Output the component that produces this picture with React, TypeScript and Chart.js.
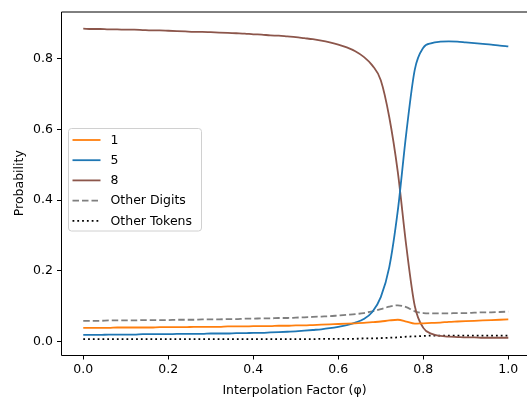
import React, { useEffect, useRef } from "react";
import { Chart, registerables } from "chart.js";

Chart.register(...registerables);

const phi: number[] = [
  0.0, 0.02, 0.04, 0.06, 0.08, 0.1, 0.12, 0.14, 0.16, 0.18,
  0.2, 0.22, 0.24, 0.26, 0.28, 0.3, 0.32, 0.34, 0.36, 0.38,
  0.4, 0.42, 0.44, 0.46, 0.48, 0.5, 0.52, 0.54, 0.56, 0.58,
  0.6, 0.62, 0.64, 0.66, 0.68, 0.7, 0.72, 0.74, 0.76, 0.78,
  0.8, 0.82, 0.84, 0.86, 0.88, 0.9, 0.92, 0.94, 0.96, 0.98, 1.0,
];

const digit1: number[] = [
  0.038, 0.038, 0.038, 0.038, 0.039, 0.039, 0.039, 0.039, 0.039, 0.04,
  0.04, 0.04, 0.04, 0.041, 0.041, 0.041, 0.041, 0.042, 0.042, 0.042,
  0.043, 0.043, 0.043, 0.044, 0.044, 0.045, 0.045, 0.046, 0.047, 0.048,
  0.049, 0.05, 0.051, 0.052, 0.054, 0.056, 0.059, 0.061, 0.056, 0.05,
  0.051, 0.052, 0.053, 0.055, 0.056, 0.057, 0.058, 0.059, 0.06, 0.061, 0.062,
];

const digit5: number[] = [
  0.018, 0.018, 0.018, 0.019, 0.019, 0.019, 0.019, 0.02, 0.02, 0.02,
  0.02, 0.021, 0.021, 0.021, 0.021, 0.022, 0.022, 0.022, 0.023, 0.023,
  0.024, 0.024, 0.025, 0.026, 0.027, 0.028, 0.03, 0.032, 0.034, 0.037,
  0.041, 0.046, 0.053, 0.063, 0.083, 0.125, 0.21, 0.37, 0.59, 0.77,
  0.832, 0.845, 0.849, 0.85, 0.849, 0.847, 0.845, 0.843, 0.841, 0.838, 0.836,
];

const digit8: number[] = [
  0.886, 0.885, 0.885, 0.884, 0.884, 0.883, 0.883, 0.882, 0.881, 0.881,
  0.88, 0.879, 0.878, 0.877, 0.877, 0.876, 0.875, 0.874, 0.873, 0.872,
  0.87, 0.869, 0.867, 0.866, 0.864, 0.862, 0.859, 0.856, 0.852, 0.847,
  0.841, 0.833, 0.822, 0.806, 0.782, 0.74, 0.635, 0.48, 0.27, 0.1,
  0.038, 0.021, 0.015, 0.013, 0.012, 0.011, 0.011, 0.01, 0.01, 0.01, 0.01,
];

const otherDigits: number[] = [
  0.058, 0.058, 0.058, 0.059, 0.059, 0.059, 0.059, 0.06, 0.06, 0.06,
  0.06, 0.061, 0.061, 0.061, 0.062, 0.062, 0.062, 0.063, 0.063, 0.064,
  0.064, 0.065, 0.065, 0.066, 0.066, 0.067, 0.068, 0.069, 0.07, 0.071,
  0.073, 0.075, 0.077, 0.08, 0.085, 0.091, 0.098, 0.102, 0.097, 0.085,
  0.08, 0.079, 0.079, 0.079, 0.08, 0.08, 0.081, 0.082, 0.082, 0.083, 0.084,
];

const otherTokens: number[] = [
  0.006, 0.006, 0.006, 0.006, 0.006, 0.006, 0.006, 0.006, 0.006, 0.006,
  0.006, 0.006, 0.006, 0.006, 0.006, 0.006, 0.006, 0.006, 0.006, 0.006,
  0.006, 0.006, 0.006, 0.006, 0.006, 0.006, 0.006, 0.006, 0.007, 0.007,
  0.007, 0.007, 0.007, 0.008, 0.008, 0.009, 0.01, 0.011, 0.013, 0.014,
  0.015, 0.016, 0.016, 0.016, 0.016, 0.016, 0.016, 0.016, 0.016, 0.016, 0.016,
];

const xTicks: number[] = [0, 0.2, 0.4, 0.6, 0.8, 1.0];
const yTicks: number[] = [0, 0.2, 0.4, 0.6, 0.8];

const FONT = "'DejaVu Sans', sans-serif";

type SeriesDef = { label: string; values: number[]; color: string; dash: number[] };

const seriesDefs: SeriesDef[] = [
  { label: "1", values: digit1, color: "#ff7f0e", dash: [] },
  { label: "5", values: digit5, color: "#1f77b4", dash: [] },
  { label: "8", values: digit8, color: "#8c564b", dash: [] },
  { label: "Other Digits", values: otherDigits, color: "#7f7f7f", dash: [6.5, 3] },
  { label: "Other Tokens", values: otherTokens, color: "#000000", dash: [1.8, 3] },
];

const framePlugin = {
  id: "frame",
  afterDraw(chart: any) {
    const { ctx, chartArea } = chart;
    const { left, top, right, bottom } = chartArea;
    ctx.save();
    ctx.strokeStyle = "#000";
    ctx.lineWidth = 1;
    ctx.setLineDash([]);
    ctx.beginPath();
    ctx.moveTo(left - 0.5, bottom + 0.5);
    ctx.lineTo(left - 0.5, top + 0.5);
    ctx.lineTo(right + 5, top + 0.5);
    ctx.moveTo(left - 0.5, bottom + 0.5);
    ctx.lineTo(right + 5, bottom + 0.5);
    ctx.stroke();

    // legend
    const bx = 68.5, by = 128.5, bw = 133, bh = 102.5, r = 3;
    ctx.beginPath();
    ctx.moveTo(bx + r, by);
    ctx.lineTo(bx + bw - r, by);
    ctx.arcTo(bx + bw, by, bx + bw, by + r, r);
    ctx.lineTo(bx + bw, by + bh - r);
    ctx.arcTo(bx + bw, by + bh, bx + bw - r, by + bh, r);
    ctx.lineTo(bx + r, by + bh);
    ctx.arcTo(bx, by + bh, bx, by + bh - r, r);
    ctx.lineTo(bx, by + r);
    ctx.arcTo(bx, by, bx + r, by, r);
    ctx.closePath();
    ctx.fillStyle = "rgba(255,255,255,0.8)";
    ctx.fill();
    ctx.strokeStyle = "#d0d0d0";
    ctx.stroke();

    ctx.font = `12.5px ${FONT}`;
    ctx.textBaseline = "middle";
    ctx.textAlign = "left";
    seriesDefs.forEach((s, i) => {
      const y = 140 + i * 20.2;
      ctx.beginPath();
      ctx.strokeStyle = s.color;
      ctx.lineWidth = 1.8;
      ctx.setLineDash(s.dash);
      ctx.moveTo(72.5, y);
      ctx.lineTo(100.5, y);
      ctx.stroke();
      ctx.setLineDash([]);
      ctx.fillStyle = "#000";
      ctx.fillText(s.label, 110.5, y + 0.5);
    });
    ctx.restore();
  },
};

export default function App() {
  const canvasRef = useRef<HTMLCanvasElement | null>(null);

  useEffect(() => {
    if (!canvasRef.current) return;
    Chart.defaults.font.family = FONT;
    Chart.defaults.font.size = 12.5;
    Chart.defaults.color = "#000";

    const chart = new Chart(canvasRef.current, {
      type: "line",
      data: {
        datasets: seriesDefs.map((s) => ({
          label: s.label,
          data: phi.map((x, i) => ({ x, y: s.values[i] })),
          borderColor: s.color,
          backgroundColor: s.color,
          borderWidth: 1.8,
          borderDash: s.dash,
          pointRadius: 0,
          fill: false,
          cubicInterpolationMode: "monotone" as const,
        })),
      },
      options: {
        animation: false,
        responsive: false,
        devicePixelRatio: 1,
        layout: { padding: { top: 5, right: 0, left: 0, bottom: 0 } },
        plugins: {
          legend: { display: false },
          tooltip: { enabled: false },
        },
        scales: {
          x: {
            type: "linear",
            min: -0.05,
            max: 1.044,
            afterBuildTicks: (scale: any) => {
              scale.ticks = xTicks.map((v) => ({ value: v }));
            },
            afterFit: (scale: any) => {
              scale.height = 50;
            },
            ticks: {
              padding: 3,
              maxRotation: 0,
              autoSkip: false,
              callback: (v: any) => Number(v).toFixed(1),
              font: { size: 12.5, family: FONT },
              color: "#000",
            },
            grid: {
              display: true,
              drawOnChartArea: false,
              drawTicks: true,
              tickLength: 4.5,
              color: "#000",
              lineWidth: 1,
            },
            border: { display: false },
            title: {
              display: true,
              text: "Interpolation Factor (φ)",
              font: { size: 12.5, family: FONT },
              color: "#000",
              padding: { top: 4, bottom: 7 },
            },
          },
          y: {
            type: "linear",
            min: -0.0389,
            max: 0.9346,
            afterBuildTicks: (scale: any) => {
              scale.ticks = yTicks.map((v) => ({ value: v }));
            },
            afterFit: (scale: any) => {
              scale.width = 62;
            },
            ticks: {
              padding: 4,
              autoSkip: false,
              callback: (v: any) => Number(v).toFixed(1),
              font: { size: 12.5, family: FONT },
              color: "#000",
            },
            grid: {
              display: true,
              drawOnChartArea: false,
              drawTicks: true,
              tickLength: 5,
              color: "#000",
              lineWidth: 1,
            },
            border: { display: false },
            title: {
              display: true,
              text: "Probability",
              font: { size: 12.5, family: FONT },
              color: "#000",
              padding: { top: 12, bottom: 0 },
            },
          },
        },
      },
      plugins: [framePlugin],
    });
    return () => chart.destroy();
  }, []);

  return (
    <div style={{ position: "fixed", left: 0, top: 0, width: 527, height: 405, background: "#fff" }}>
      <canvas ref={canvasRef} width={527} height={405} style={{ width: 527, height: 405, display: "block" }} />
    </div>
  );
}
